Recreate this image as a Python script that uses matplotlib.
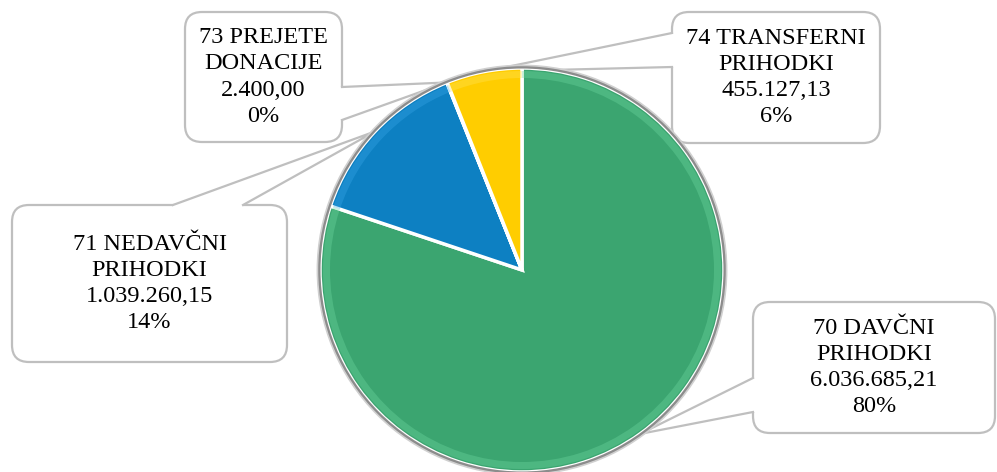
import matplotlib
matplotlib.use("Agg")
import matplotlib.pyplot as plt
from matplotlib.patches import FancyBboxPatch, Polygon, Circle, Wedge
import numpy as np

# ---- data ----
names = ["70 DAVČNI\nPRIHODKI", "71 NEDAVČNI\nPRIHODKI", "73 PREJETE\nDONACIJE", "74 TRANSFERNI\nPRIHODKI"]
values = [6036685.21, 1039260.15, 2400.00, 455127.13]
colors = ["#3BA570", "#0D80C2", "#BFBFBF", "#FFCD00"]
rim_colors = ["#6FD9A2", "#3AA8E8", "#DDDDDD", "#FFE45C"]

W, H = 997, 472
def Y(py):
    return H - py

fig = plt.figure(figsize=(W / 100, H / 100), dpi=100)
ax = fig.add_axes([0, 0, 1, 1])

cx, cy, R = 522, Y(270), 202
wedges, _ = ax.pie(values, colors=colors, startangle=90, counterclock=False,
                   center=(cx, cy), radius=R,
                   wedgeprops=dict(edgecolor="white", linewidth=2.5, zorder=5))
for w in wedges:
    w.set_zorder(5)

# bevel-like rim
for w, rc in zip(wedges, rim_colors):
    ax.add_patch(Wedge((cx, cy), R - 3, w.theta1, w.theta2, width=7,
                       facecolor=rc, edgecolor="none", alpha=0.35, zorder=6))
ax.add_patch(Circle((cx, cy), R + 1, facecolor="none", edgecolor="#8C8C8C",
                    linewidth=2.2, zorder=7))
ax.add_patch(Circle((cx, cy), R + 2.6, facecolor="none", edgecolor="#D0D0D0",
                    linewidth=1.2, zorder=7))

# callout boxes (pixel coords: x0, y0, x1, y1) and pointer base points
boxes = [
    (753, 302, 995, 433),
    (12, 205, 287, 362),
    (185, 12, 342, 142),
    (672, 12, 880, 143),
]
bases = [
    ((753, 378), (753, 412)),
    ((173, 205), (243, 205)),
    ((342, 87), (342, 120)),
    ((672, 33), (672, 67)),
]

total = sum(values)

def fmt(v):
    s = f"{v:,.2f}"
    return s.replace(",", "X").replace(".", ",").replace("X", ".")

edge_c = "#BFBFBF"
for w, name, v, box, (b1, b2) in zip(wedges, names, values, boxes, bases):
    x0, y0, x1, y1 = box
    ax.add_patch(FancyBboxPatch((x0, Y(y1)), x1 - x0, y1 - y0,
                                boxstyle="round,pad=0,rounding_size=17",
                                facecolor="white", edgecolor=edge_c,
                                linewidth=1.6, zorder=2))
    mid = np.deg2rad((w.theta1 + w.theta2) / 2)
    tip = (cx + R * np.cos(mid), cy + R * np.sin(mid))
    p1 = (b1[0], Y(b1[1]))
    p2 = (b2[0], Y(b2[1]))
    bx, by = (x0 + x1) / 2, Y((y0 + y1) / 2)
    def inward(p):
        dx, dy = bx - p[0], by - p[1]
        if abs(p[0] - x0) < 1 or abs(p[0] - x1) < 1:
            return (p[0] + 3 * np.sign(dx), p[1])
        return (p[0], p[1] + 3 * np.sign(dy))
    ax.add_patch(Polygon([inward(p1), p1, tip, p2, inward(p2)], closed=True,
                         facecolor="white", edgecolor="none", zorder=3))
    ax.plot([p1[0], tip[0], p2[0]], [p1[1], tip[1], p2[1]], color=edge_c,
            linewidth=1.6, zorder=3.5, solid_joinstyle="miter")
    pct = round(v / total * 100)
    label = f"{name}\n{fmt(v)}\n{pct}%"
    ax.text((x0 + x1) / 2, Y((y0 + y1) / 2), label, ha="center", va="center",
            fontsize=17.5, family="Liberation Serif", linespacing=1.32,
            color="#000000", zorder=10)

ax.set_xlim(0, W)
ax.set_ylim(0, H)
ax.set_aspect("equal")
ax.axis("off")
fig.savefig("out.png", dpi=100)
